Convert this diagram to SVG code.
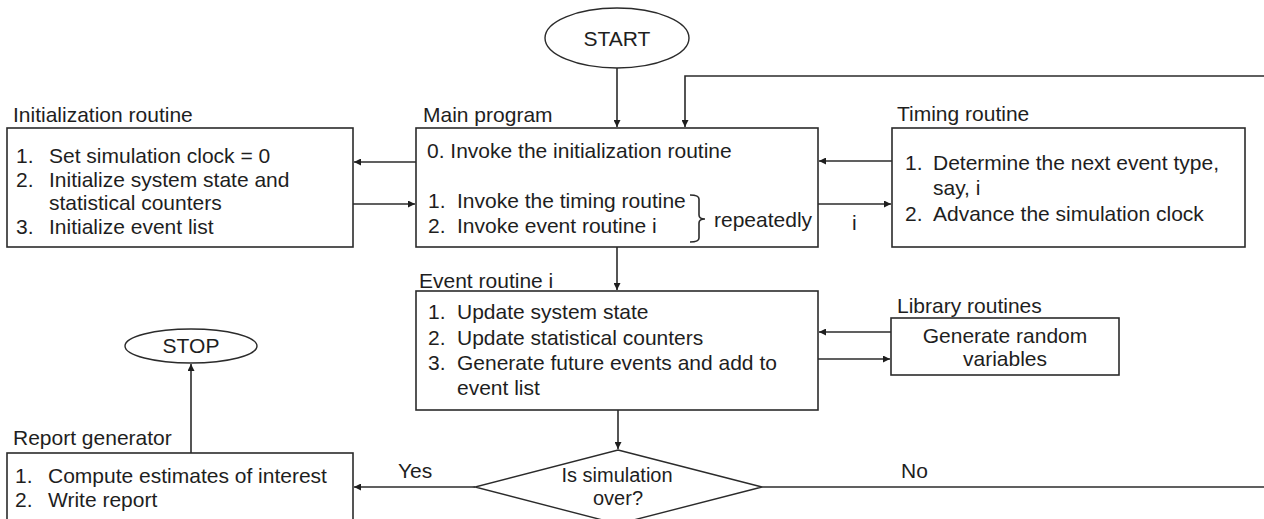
<svg xmlns="http://www.w3.org/2000/svg" width="1264" height="519" viewBox="0 0 1264 519">
  <style>
    .box { fill: #ffffff; stroke: #2b2b2b; stroke-width: 1.6; }
    .term { fill: #ffffff; stroke: #2b2b2b; stroke-width: 1.4; }
    .txt { font-family: "Liberation Sans", Arial, sans-serif; font-size: 21px; fill: #1e1e1e; }
    .mid { text-anchor: middle; }
    .small { font-size: 20px; }
    .wire { fill: none; stroke: #2b2b2b; stroke-width: 1.6; }
  </style>
  <defs>
    <marker id="arrow" viewBox="0 0 10 10" refX="10" refY="5" markerWidth="7" markerHeight="7" markerUnits="userSpaceOnUse" orient="auto">
      <path d="M0,0 L10,5 L0,10 z" fill="#1e1e1e"/>
    </marker>
  </defs>
  <rect width="1264" height="519" fill="#ffffff"/>

  <!-- connectors -->
  <g id="connectors">
    <line class="wire" x1="617" y1="68" x2="617" y2="127" marker-end="url(#arrow)"/>
    <polyline class="wire" points="1264,76 685,76 685,127" marker-end="url(#arrow)"/>
    <line class="wire" x1="416" y1="162" x2="354" y2="162" marker-end="url(#arrow)"/>
    <line class="wire" x1="353" y1="204" x2="415" y2="204" marker-end="url(#arrow)"/>
    <line class="wire" x1="892" y1="161" x2="819" y2="161" marker-end="url(#arrow)"/>
    <line class="wire" x1="818" y1="204" x2="891" y2="204" marker-end="url(#arrow)"/>
    <line class="wire" x1="617" y1="247" x2="617" y2="290" marker-end="url(#arrow)"/>
    <line class="wire" x1="891" y1="332" x2="819" y2="332" marker-end="url(#arrow)"/>
    <line class="wire" x1="818" y1="359" x2="890" y2="359" marker-end="url(#arrow)"/>
    <line class="wire" x1="618" y1="410" x2="618" y2="449" marker-end="url(#arrow)"/>
    <line class="wire" x1="475" y1="487" x2="354" y2="487" marker-end="url(#arrow)"/>
    <line class="wire" x1="762" y1="487" x2="1264" y2="487"/>
    <line class="wire" x1="191" y1="453" x2="191" y2="364" marker-end="url(#arrow)"/>
    <text class="txt" x="852" y="230">i</text>
    <text class="txt" x="398" y="478">Yes</text>
    <text class="txt" x="901" y="478">No</text>
  </g>

  <!-- start terminal -->
  <g id="start">
    <ellipse class="term" cx="617" cy="38" rx="72" ry="30"/>
    <text class="txt mid" x="617" y="46">START</text>
  </g>

  <!-- initialization routine -->
  <g id="init">
    <text class="txt" x="13" y="122">Initialization routine</text>
    <rect class="box" x="7" y="128" width="346" height="119"/>
    <text class="txt" x="16" y="163">1.</text>
    <text class="txt" x="49" y="163">Set simulation clock = 0</text>
    <text class="txt" x="16" y="187">2.</text>
    <text class="txt" x="49" y="187">Initialize system state and</text>
    <text class="txt" x="49" y="210">statistical counters</text>
    <text class="txt" x="16" y="234">3.</text>
    <text class="txt" x="49" y="234">Initialize event list</text>
  </g>

  <!-- main program -->
  <g id="main">
    <text class="txt" x="423" y="122">Main program</text>
    <rect class="box" x="416" y="128" width="402" height="119"/>
    <text class="txt" x="427" y="158">0. Invoke the initialization routine</text>
    <text class="txt" x="428" y="208">1.</text>
    <text class="txt" x="457" y="208">Invoke the timing routine</text>
    <text class="txt" x="428" y="233">2.</text>
    <text class="txt" x="457" y="233">Invoke event routine i</text>
    <path class="wire" d="M690,195 Q699,195 699,199 L699,215 Q699,219 705,219 Q699,219 699,223 L699,238 Q699,242 690,242" stroke-width="1.3"/>
    <text class="txt" x="714" y="227">repeatedly</text>
  </g>

  <!-- timing routine -->
  <g id="timing">
    <text class="txt" x="897" y="121">Timing routine</text>
    <rect class="box" x="892" y="128" width="353" height="119"/>
    <text class="txt" x="905" y="170">1.</text>
    <text class="txt" x="933" y="170">Determine the next event type,</text>
    <text class="txt" x="933" y="195">say, i</text>
    <text class="txt" x="905" y="221">2.</text>
    <text class="txt" x="933" y="221">Advance the simulation clock</text>
  </g>

  <!-- event routine -->
  <g id="event">
    <text class="txt" x="419" y="288">Event routine i</text>
    <rect class="box" x="416" y="291" width="402" height="119"/>
    <text class="txt" x="428" y="319">1.</text>
    <text class="txt" x="457" y="319">Update system state</text>
    <text class="txt" x="428" y="345">2.</text>
    <text class="txt" x="457" y="345">Update statistical counters</text>
    <text class="txt" x="428" y="370">3.</text>
    <text class="txt" x="457" y="370">Generate future events and add to</text>
    <text class="txt" x="457" y="395">event list</text>
  </g>

  <!-- library routines -->
  <g id="library">
    <text class="txt" x="897" y="313">Library routines</text>
    <rect class="box" x="891" y="318" width="228" height="57"/>
    <text class="txt mid" x="1005" y="343">Generate random</text>
    <text class="txt mid" x="1005" y="366">variables</text>
  </g>

  <!-- decision -->
  <g id="decision">
    <polygon class="term" points="618,450 762,487 618,524 475,487"/>
    <text class="txt mid small" x="617" y="482">Is simulation</text>
    <text class="txt mid small" x="618" y="505">over?</text>
  </g>

  <!-- stop terminal -->
  <g id="stop">
    <ellipse class="term" cx="191" cy="346" rx="66" ry="17"/>
    <text class="txt mid" x="191" y="353">STOP</text>
  </g>

  <!-- report generator -->
  <g id="report">
    <text class="txt" x="13" y="445">Report generator</text>
    <rect class="box" x="7" y="453" width="346" height="80"/>
    <text class="txt" x="15" y="483">1.</text>
    <text class="txt" x="48" y="483">Compute estimates of interest</text>
    <text class="txt" x="15" y="507">2.</text>
    <text class="txt" x="48" y="507">Write report</text>
  </g>
</svg>
